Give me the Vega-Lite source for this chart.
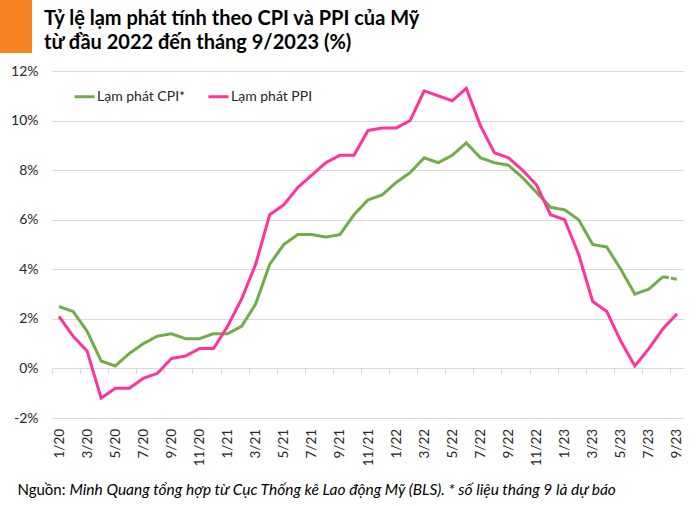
{
  "$schema": "https://vega.github.io/schema/vega-lite/v6.json",
  "padding": 0,
  "background": "white",
  "spacing": -32,
  "config": {
    "font": "Lato",
    "view": {"stroke": null}
  },
  "resolve": {"legend": {"color": "independent", "strokeDash": "independent"}},
  "hconcat": [
    {
      "width": 32, "height": 53,
      "view": {"fill": "#F58220", "stroke": null},
      "data": {"values": [{}]},
      "mark": {"type": "point", "opacity": 0}
    },
    {
      "width": 632, "height": 418,
      "title": {
        "text": ["Tỷ lệ lạm phát tính theo CPI và PPI của Mỹ", "từ đầu 2022 đến tháng 9/2023 (%)"],
        "orient": "top", "anchor": "start", "frame": "group", "dx": -8, "offset": -53,
        "baseline": "top", "align": "left", "fontSize": 20, "fontWeight": "bold", "font": "Lato",
        "color": "#000000", "lineHeight": 24.5
      },
      "data": {"values": [
        {"month":"1/20","series":"Lạm phát CPI*","seg":"main","value":2.5},
        {"month":"2/20","series":"Lạm phát CPI*","seg":"main","value":2.3},
        {"month":"3/20","series":"Lạm phát CPI*","seg":"main","value":1.5},
        {"month":"4/20","series":"Lạm phát CPI*","seg":"main","value":0.3},
        {"month":"5/20","series":"Lạm phát CPI*","seg":"main","value":0.1},
        {"month":"6/20","series":"Lạm phát CPI*","seg":"main","value":0.6},
        {"month":"7/20","series":"Lạm phát CPI*","seg":"main","value":1.0},
        {"month":"8/20","series":"Lạm phát CPI*","seg":"main","value":1.3},
        {"month":"9/20","series":"Lạm phát CPI*","seg":"main","value":1.4},
        {"month":"10/20","series":"Lạm phát CPI*","seg":"main","value":1.2},
        {"month":"11/20","series":"Lạm phát CPI*","seg":"main","value":1.2},
        {"month":"12/20","series":"Lạm phát CPI*","seg":"main","value":1.4},
        {"month":"1/21","series":"Lạm phát CPI*","seg":"main","value":1.4},
        {"month":"2/21","series":"Lạm phát CPI*","seg":"main","value":1.7},
        {"month":"3/21","series":"Lạm phát CPI*","seg":"main","value":2.6},
        {"month":"4/21","series":"Lạm phát CPI*","seg":"main","value":4.2},
        {"month":"5/21","series":"Lạm phát CPI*","seg":"main","value":5.0},
        {"month":"6/21","series":"Lạm phát CPI*","seg":"main","value":5.4},
        {"month":"7/21","series":"Lạm phát CPI*","seg":"main","value":5.4},
        {"month":"8/21","series":"Lạm phát CPI*","seg":"main","value":5.3},
        {"month":"9/21","series":"Lạm phát CPI*","seg":"main","value":5.4},
        {"month":"10/21","series":"Lạm phát CPI*","seg":"main","value":6.2},
        {"month":"11/21","series":"Lạm phát CPI*","seg":"main","value":6.8},
        {"month":"12/21","series":"Lạm phát CPI*","seg":"main","value":7.0},
        {"month":"1/22","series":"Lạm phát CPI*","seg":"main","value":7.5},
        {"month":"2/22","series":"Lạm phát CPI*","seg":"main","value":7.9},
        {"month":"3/22","series":"Lạm phát CPI*","seg":"main","value":8.5},
        {"month":"4/22","series":"Lạm phát CPI*","seg":"main","value":8.3},
        {"month":"5/22","series":"Lạm phát CPI*","seg":"main","value":8.6},
        {"month":"6/22","series":"Lạm phát CPI*","seg":"main","value":9.1},
        {"month":"7/22","series":"Lạm phát CPI*","seg":"main","value":8.5},
        {"month":"8/22","series":"Lạm phát CPI*","seg":"main","value":8.3},
        {"month":"9/22","series":"Lạm phát CPI*","seg":"main","value":8.2},
        {"month":"10/22","series":"Lạm phát CPI*","seg":"main","value":7.7},
        {"month":"11/22","series":"Lạm phát CPI*","seg":"main","value":7.1},
        {"month":"12/22","series":"Lạm phát CPI*","seg":"main","value":6.5},
        {"month":"1/23","series":"Lạm phát CPI*","seg":"main","value":6.4},
        {"month":"2/23","series":"Lạm phát CPI*","seg":"main","value":6.0},
        {"month":"3/23","series":"Lạm phát CPI*","seg":"main","value":5.0},
        {"month":"4/23","series":"Lạm phát CPI*","seg":"main","value":4.9},
        {"month":"5/23","series":"Lạm phát CPI*","seg":"main","value":4.0},
        {"month":"6/23","series":"Lạm phát CPI*","seg":"main","value":3.0},
        {"month":"7/23","series":"Lạm phát CPI*","seg":"main","value":3.2},
        {"month":"8/23","series":"Lạm phát CPI*","seg":"main","value":3.7},
        {"month":"8/23","series":"Lạm phát CPI*","seg":"forecast","value":3.7},
        {"month":"9/23","series":"Lạm phát CPI*","seg":"forecast","value":3.6},
        {"month":"1/20","series":"Lạm phát PPI","seg":"main","value":2.1},
        {"month":"2/20","series":"Lạm phát PPI","seg":"main","value":1.3},
        {"month":"3/20","series":"Lạm phát PPI","seg":"main","value":0.7},
        {"month":"4/20","series":"Lạm phát PPI","seg":"main","value":-1.2},
        {"month":"5/20","series":"Lạm phát PPI","seg":"main","value":-0.8},
        {"month":"6/20","series":"Lạm phát PPI","seg":"main","value":-0.8},
        {"month":"7/20","series":"Lạm phát PPI","seg":"main","value":-0.4},
        {"month":"8/20","series":"Lạm phát PPI","seg":"main","value":-0.2},
        {"month":"9/20","series":"Lạm phát PPI","seg":"main","value":0.4},
        {"month":"10/20","series":"Lạm phát PPI","seg":"main","value":0.5},
        {"month":"11/20","series":"Lạm phát PPI","seg":"main","value":0.8},
        {"month":"12/20","series":"Lạm phát PPI","seg":"main","value":0.8},
        {"month":"1/21","series":"Lạm phát PPI","seg":"main","value":1.7},
        {"month":"2/21","series":"Lạm phát PPI","seg":"main","value":2.8},
        {"month":"3/21","series":"Lạm phát PPI","seg":"main","value":4.2},
        {"month":"4/21","series":"Lạm phát PPI","seg":"main","value":6.2},
        {"month":"5/21","series":"Lạm phát PPI","seg":"main","value":6.6},
        {"month":"6/21","series":"Lạm phát PPI","seg":"main","value":7.3},
        {"month":"7/21","series":"Lạm phát PPI","seg":"main","value":7.8},
        {"month":"8/21","series":"Lạm phát PPI","seg":"main","value":8.3},
        {"month":"9/21","series":"Lạm phát PPI","seg":"main","value":8.6},
        {"month":"10/21","series":"Lạm phát PPI","seg":"main","value":8.6},
        {"month":"11/21","series":"Lạm phát PPI","seg":"main","value":9.6},
        {"month":"12/21","series":"Lạm phát PPI","seg":"main","value":9.7},
        {"month":"1/22","series":"Lạm phát PPI","seg":"main","value":9.7},
        {"month":"2/22","series":"Lạm phát PPI","seg":"main","value":10.0},
        {"month":"3/22","series":"Lạm phát PPI","seg":"main","value":11.2},
        {"month":"4/22","series":"Lạm phát PPI","seg":"main","value":11.0},
        {"month":"5/22","series":"Lạm phát PPI","seg":"main","value":10.8},
        {"month":"6/22","series":"Lạm phát PPI","seg":"main","value":11.3},
        {"month":"7/22","series":"Lạm phát PPI","seg":"main","value":9.8},
        {"month":"8/22","series":"Lạm phát PPI","seg":"main","value":8.7},
        {"month":"9/22","series":"Lạm phát PPI","seg":"main","value":8.5},
        {"month":"10/22","series":"Lạm phát PPI","seg":"main","value":8.0},
        {"month":"11/22","series":"Lạm phát PPI","seg":"main","value":7.4},
        {"month":"12/22","series":"Lạm phát PPI","seg":"main","value":6.2},
        {"month":"1/23","series":"Lạm phát PPI","seg":"main","value":6.0},
        {"month":"2/23","series":"Lạm phát PPI","seg":"main","value":4.6},
        {"month":"3/23","series":"Lạm phát PPI","seg":"main","value":2.7},
        {"month":"4/23","series":"Lạm phát PPI","seg":"main","value":2.3},
        {"month":"5/23","series":"Lạm phát PPI","seg":"main","value":1.1},
        {"month":"6/23","series":"Lạm phát PPI","seg":"main","value":0.1},
        {"month":"7/23","series":"Lạm phát PPI","seg":"main","value":0.8},
        {"month":"8/23","series":"Lạm phát PPI","seg":"main","value":1.6},
        {"month":"9/23","series":"Lạm phát PPI","seg":"main","value":2.2}
      ]},
      "mark": {"type": "line", "strokeWidth": 3},
      "encoding": {
        "x": {
          "field": "month", "type": "ordinal", "sort": null,
          "scale": {"type": "point", "padding": 0.5},
          "axis": {
            "title": "Minh Quang tổng hợp từ Cục Thống kê Lao động Mỹ (BLS). * số liệu tháng 9 là dự báo",
            "values": ["1/20","3/20","5/20","7/20","9/20","11/20","1/21","3/21","5/21","7/21","9/21","11/21","1/22","3/22","5/22","7/22","9/22","11/22","1/23","3/23","5/23","7/23","9/23"],
            "labelAngle": -90, "labelFontSize": 13.5, "labelFont": "Lato", "labelColor": "#262626",
            "labelPadding": 55, "domain": false, "ticks": true, "tickSize": 5, "tickColor": "#D9D9D9",
            "tickOffset": -7.02, "labelOffset": 7.02, "offset": -49.57, "grid": false,
            "titleFont": "Lato", "titleFontSize": 15.5, "titleFontWeight": "normal", "titleFontStyle": "italic",
            "titleColor": "#000000", "titleX": 17, "titleY": 126, "titleAnchor": "start", "titleAlign": "left",
            "titleBaseline": "alphabetic", "titleAngle": 0
          }
        },
        "y": {
          "field": "value", "type": "quantitative",
          "scale": {"domain": [-2, 14.865], "nice": false, "zero": false},
          "axis": {
            "title": "Nguồn:", "values": [-2,0,2,4,6,8,10,12], "labelExpr": "datum.value + '%'",
            "domain": false, "ticks": false, "grid": true, "gridColor": "#D9D9D9", "gridWidth": 1,
            "labelFontSize": 14, "labelFont": "Lato", "labelColor": "#262626", "labelPadding": 14, "minExtent": 51.5,
            "titleFont": "Lato", "titleFontSize": 15, "titleFontWeight": "normal", "titleColor": "#000000",
            "titleAngle": 0, "titleX": -35, "titleY": 494, "titleAlign": "left", "titleAnchor": null, "titleBaseline": "alphabetic"
          }
        },
        "color": {
          "field": "series", "type": "nominal",
          "scale": {"domain": ["Lạm phát CPI*", "Lạm phát PPI"], "range": ["#70AD47", "#FF3399"]},
          "legend": {
            "title": null, "orient": "none", "legendX": 21, "legendY": 85, "direction": "horizontal",
            "symbolType": "stroke", "symbolStrokeWidth": 3, "symbolSize": 400,
            "labelFontSize": 14, "labelFont": "Lato", "labelColor": "#262626",
            "labelOffset": 1, "columnPadding": 16, "padding": 0
          }
        },
        "strokeDash": {
          "field": "seg", "type": "nominal",
          "scale": {"domain": ["main", "forecast"], "range": [[1, 0], [6, 2]]},
          "legend": null
        }
      }
    }
  ]
}
